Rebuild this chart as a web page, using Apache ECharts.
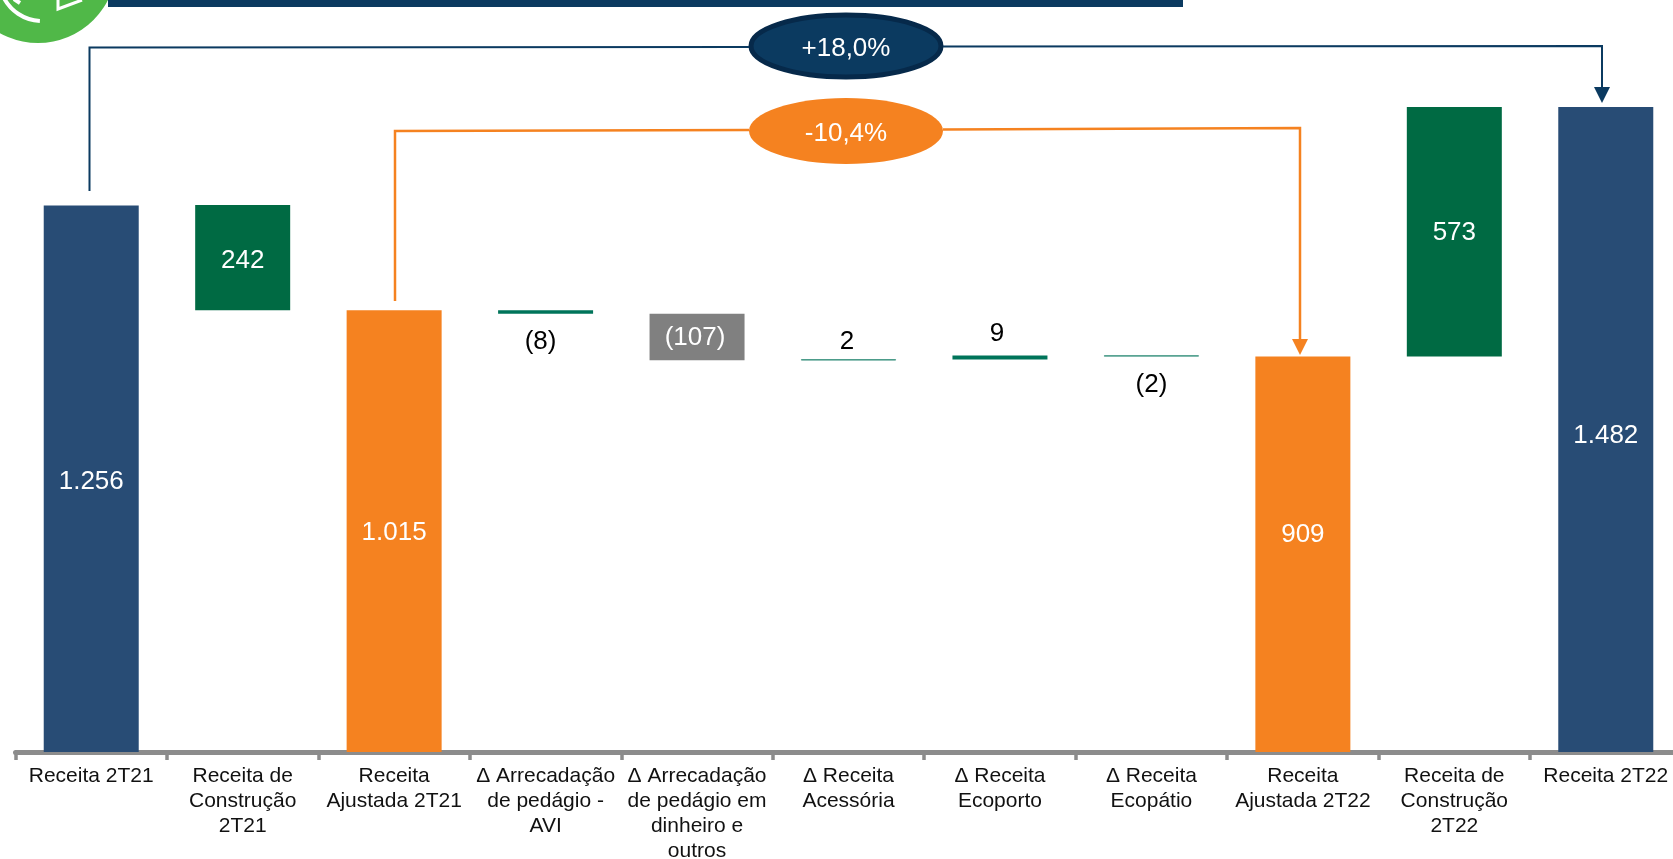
<!DOCTYPE html>
<html>
<head>
<meta charset="utf-8">
<style>html,body{margin:0;padding:0;background:#fff;overflow:hidden}#c{width:1673px;height:859px}</style>
<script src="https://cdn.jsdelivr.net/npm/echarts@6/dist/echarts.min.js"></script>
</head>
<body>
<div id="c"></div>
<script>
const categories = [
  'Receita 2T21','Receita de\nConstrução\n2T21','Receita\nAjustada 2T21',
  'Δ Arrecadação\nde pedágio -\nAVI','Δ Arrecadação\nde pedágio em\ndinheiro e\noutros',
  'Δ Receita\nAcessória','Δ Receita\nEcoporto','Δ Receita\nEcopátio',
  'Receita\nAjustada 2T22','Receita de\nConstrução\n2T22','Receita 2T22'
];
const baseValues = [0,1015,0,1007,900,900,902,909,0,909,0];
const barValues  = [1256,242,1015,8,107,2,9,2,909,573,1482];
const valueLabels = ['1.256','242','1.015','(8)','(107)','2','9','(2)','909','573','1.482'];
const barKinds = ['total','up','adjusted','upAlt','down','upAlt','upAlt','upAlt','adjusted','up','total'];
const changeLabels = ['+18,0%','-10,4%'];

const kindColors = {total:'#284C75',up:'#006A43',adjusted:'#F58220',upAlt:'#00745A',down:'#808080'};
const FONT = '"Liberation Sans", Arial, sans-serif';
const NAVY = '#0B3A60', ORANGE = '#F58220', GREEN = '#50B848';

// label placement per bar: [dx, dy from bar centre, colour]
const labelPlace = {
  0:[0,3,'#fff'],1:[0,3,'#fff'],2:[0,2,'#fff'],
  3:[-5,30,'#000'],4:[-2,1,'#fff'],5:[-1.5,-18,'#000'],6:[-3,-24,'#000'],7:[0,29,'#000'],
  8:[0,-19,'#fff'],9:[0,1,'#fff'],10:[0,6,'#fff']
};

function polyline(points, color, w){
  return {type:'polyline',silent:true,z:5,shape:{points:points},
    style:{stroke:color,lineWidth:w||2,fill:null}};
}
function arrow(x, tipY, color){
  return {type:'polygon',silent:true,z:5,shape:{points:[[x-8,tipY-16],[x+8,tipY-16],[x,tipY]]},style:{fill:color}};
}
function badge(cy, fill, stroke, lw, text){
  return {type:'group',z:6,silent:true,children:[
    {type:'ellipse',shape:{cx:846,cy:cy,rx:lw?95:97,ry:lw?31:33},style:{fill:fill,stroke:stroke,lineWidth:lw}},
    {type:'text',style:{x:846,y:cy+3,text:text,fill:'#fff',font:'26px '+FONT,align:'center',verticalAlign:'middle'}}
  ]};
}

const chart = echarts.init(document.getElementById('c'), null, {renderer:'canvas'});
chart.setOption({
  animation:false,
  backgroundColor:'#fff',
  grid:{left:15.5,top:0,width:1666,height:752,containLabel:false,outerBoundsMode:'none'},
  xAxis:{
    type:'category',data:categories,offset:2.5,
    axisLine:{lineStyle:{color:'#8C8C8C',width:5}},
    axisTick:{show:true,alignWithLabel:false,length:8,lineStyle:{color:'#8C8C8C',width:3.5}},
    axisLabel:{interval:0,margin:9,color:'#111',fontFamily:FONT,fontSize:21,lineHeight:25,verticalAlign:'top',hideOverlap:false}
  },
  yAxis:{type:'value',min:0,max:1728,show:false,splitLine:{show:false}},
  series:[
    {type:'bar',stack:'w',data:baseValues,barWidth:95,silent:true,itemStyle:{color:'transparent'},label:{show:false}},
    {type:'bar',stack:'w',barWidth:95,silent:true,
     data:barValues.map((v,i)=>({
       value:v,
       itemStyle:{color:kindColors[barKinds[i]],
         borderColor:kindColors[barKinds[i]],borderWidth:v<3?0.6:0},
       label:{show:true,position:'inside',formatter:valueLabels[i],
         offset:[labelPlace[i][0],labelPlace[i][1]],color:labelPlace[i][2],
         fontFamily:FONT,fontSize:26}
     }))}
  ],
  graphic:[
    {type:'rect',silent:true,z:4,shape:{x:108,y:-2,width:1075,height:9},style:{fill:NAVY}},
    {type:'circle',silent:true,z:4,shape:{cx:38,cy:-35.5,r:78.5},style:{fill:GREEN}},
    {type:'arc',silent:true,z:4,shape:{cx:42,cy:-22,r:43,startAngle:1.62,endAngle:2.7},style:{stroke:'#fff',lineWidth:4,fill:null}},
    polyline([[14,-1],[20,3]],'#fff',4),
    polyline([[82,0],[58,9],[58,-2]],'#fff',3),
    polyline([[89.5,191],[89.5,47.5],[749,47]],NAVY),
    polyline([[943,46.5],[1602,46],[1602,92]],NAVY),
    arrow(1602,103,NAVY),
    polyline([[395,301],[395,131],[749,130]],ORANGE,2.5),
    polyline([[943,129.5],[1300,128],[1300,344]],ORANGE,2.5),
    arrow(1300,355,ORANGE),
    badge(46,NAVY,'#06294A',5,changeLabels[0]),
    badge(131,ORANGE,ORANGE,0,changeLabels[1])
  ]
});
</script>
</body>
</html>
